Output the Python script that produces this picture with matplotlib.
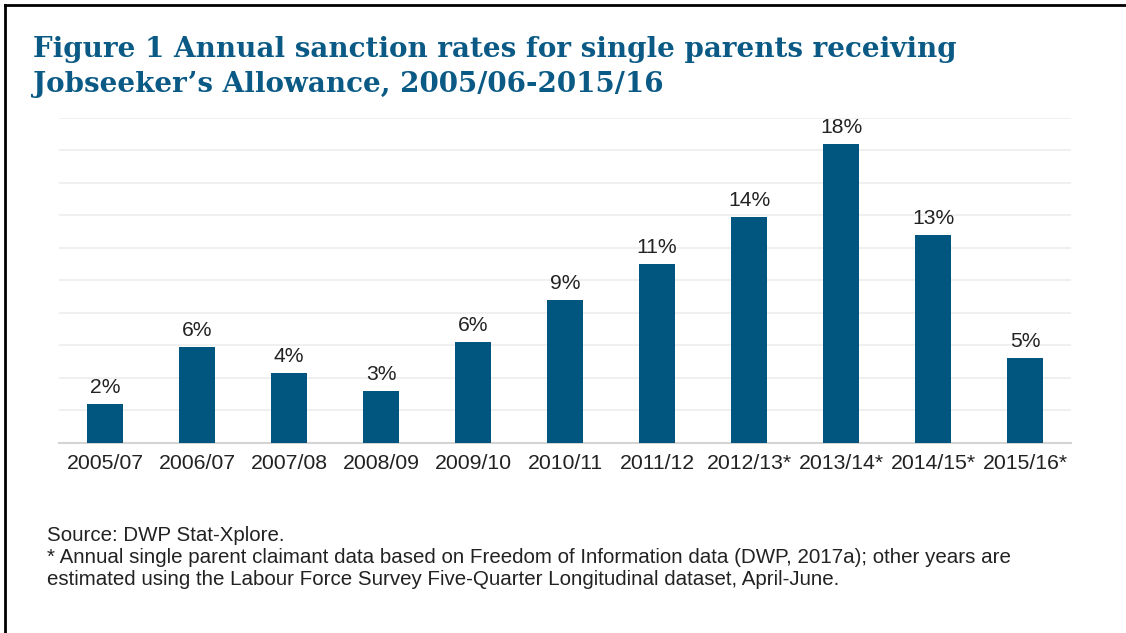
import numpy as np
import matplotlib
matplotlib.use("Agg")
import matplotlib.pyplot as plt
from matplotlib.lines import Line2D

# --- data ---
years = ['2005/07', '2006/07', '2007/08', '2008/09', '2009/10', '2010/11',
         '2011/12', '2012/13*', '2013/14*', '2014/15*', '2015/16*']
rates = [2.4, 5.9, 4.3, 3.2, 6.2, 8.8, 11.0, 13.9, 18.4, 12.8, 5.2]

TITLE = ("Figure 1 Annual sanction rates for single parents receiving\n"
         "Jobseeker\u2019s Allowance, 2005/06-2015/16")
NOTES = ("Source: DWP Stat-Xplore.\n"
         "* Annual single parent claimant data based on Freedom of Information data (DWP, 2017a); other years are\n"
         "estimated using the Labour Force Survey Five-Quarter Longitudinal dataset, April-June.")

BAR_COLOR = '#00567F'
TITLE_COLOR = '#0A5A85'
TEXT_COLOR = '#222222'

plt.rcParams['font.family'] = ['Liberation Sans', 'DejaVu Sans']

fig = plt.figure(figsize=(11.26, 6.33), dpi=100)
ax = fig.add_axes([59 / 1126, 1 - 443 / 633, 1012 / 1126, (443 - 117.7) / 633])

x = np.arange(len(years))
ax.bar(x, rates, width=0.4, color=BAR_COLOR, zorder=3)
for xi, v in zip(x, rates):
    ax.annotate(f"{v:.0f}%", (xi, v), xytext=(0, 5), textcoords='offset points',
                ha='center', va='bottom', fontsize=15.2, color=TEXT_COLOR)

ax.set_xlim(-0.5, len(years) - 0.5)
ax.set_ylim(0, 20)
ax.set_yticks(np.arange(0, 21, 2))
ax.yaxis.grid(True, color='#EDEDED', linewidth=1.2, zorder=0)
ax.tick_params(axis='y', left=False, labelleft=False)
ax.tick_params(axis='x', length=0, pad=8, labelsize=15.3, labelcolor=TEXT_COLOR)
ax.set_xticks(x)
ax.set_xticklabels(years)
for s in ['top', 'right', 'left']:
    ax.spines[s].set_visible(False)
ax.spines['bottom'].set_color('#D4D4D4')
ax.spines['bottom'].set_linewidth(1.5)

fig.text(33 / 1126, 1 - 36 / 633, TITLE, ha='left', va='top', fontsize=20,
         fontweight='bold', family='DejaVu Serif', color=TITLE_COLOR, linespacing=1.36)
fig.text(47 / 1126, 1 - 526 / 633, NOTES, ha='left', va='top', fontsize=14.8,
         color=TEXT_COLOR, linespacing=1.21)

# frame: top and left edge only
fig.add_artist(Line2D([5 / 1126, 1], [1 - 5 / 633, 1 - 5 / 633], color='black', lw=2,
                      transform=fig.transFigure))
fig.add_artist(Line2D([5 / 1126, 5 / 1126], [0, 1 - 5 / 633], color='black', lw=2,
                      transform=fig.transFigure))

fig.savefig('out.png', dpi=100)
